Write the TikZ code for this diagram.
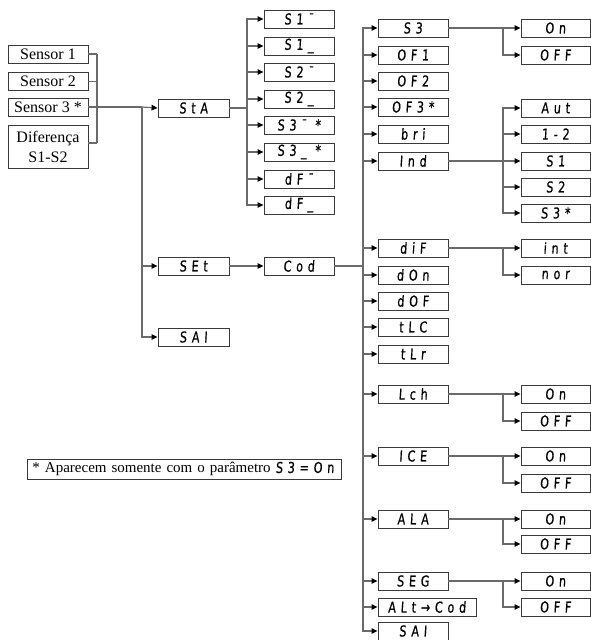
\documentclass[tikz,border=0pt]{standalone}
\usepackage{fontspec}
\setmainfont{Liberation Serif}
\newfontfamily\segfont[LetterSpace=32,FakeStretch=0.74,FakeSlant=0.06,FakeBold=0.6]{DejaVu Sans}
\usetikzlibrary{arrows.meta,calc}
\definecolor{linecol}{HTML}{6A6A6A}
\definecolor{boxcol}{HTML}{3A3A3A}
\tikzset{
  base/.style={draw=boxcol, line width=0.9pt, inner sep=0pt, anchor=center},
  box/.style={base, minimum width=70pt, minimum height=18pt, font={\fontsize{15}{15}\segfont}},
  sbox/.style={base, minimum width=80pt, minimum height=18pt, font={\fontsize{16}{20}\selectfont}},
  link/.style={draw=linecol, line width=1.2pt},
  arr/.style={link, -{Triangle[length=6pt,width=5.5pt,color=black]}},
}
\begin{document}
\begin{tikzpicture}[x=1pt,y=-1pt]
\useasboundingbox (0,0) rectangle (591,640);
% column A
\node[sbox] (s1) at (48,54) {Sensor 1};
\node[sbox] (s2) at (48,81.5) {Sensor 2};
\node[sbox] (s3) at (48,107) {Sensor 3 *};
\node[sbox, minimum height=43pt, align=center] (dif) at (48,146.5) {Diferença\\S1-S2};
% column B
\node[box, minimum width=71pt] (sta) at (193.5,108) {StA};
\node[box, minimum width=71pt] (set) at (193.5,266) {SEt};
\node[box, minimum width=71pt] (saiB) at (193.5,337) {SAI};
% column C
\node[box] (c1) at (299,19) {S1¯};
\node[box] (c2) at (299,46) {S1\_};
\node[box] (c3) at (299,72) {S2¯};
\node[box] (c4) at (299,99) {S2\_};
\node[box] (c5) at (299,125) {S3¯ *};
\node[box] (c6) at (299,152) {S3\_ *};
\node[box] (c7) at (299,179) {dF¯};
\node[box] (c8) at (299,205) {dF\_};
\node[box] (cod) at (299,266) {Cod};
% column D
\node[box] (d1) at (413,28) {S3};
\node[box] (d2) at (413,55) {OF1};
\node[box] (d3) at (413,81) {OF2};
\node[box] (d4) at (413,107) {OF3*};
\node[box] (d5) at (413,134) {bri};
\node[box] (d6) at (413,161) {Ind};
\node[box] (d7) at (413,248) {diF};
\node[box] (d8) at (413,275) {dOn};
\node[box] (d9) at (413,301) {dOF};
\node[box] (d10) at (413,327) {tLC};
\node[box] (d11) at (413,354) {tLr};
\node[box] (d12) at (413,394) {Lch};
\node[box] (d13) at (413,456) {ICE};
\node[box] (d14) at (413,519) {ALA};
\node[box] (d15) at (413,581) {SEG};
\node[box, minimum width=98pt] (d16) at (427,607) {ALt→Cod};
\node[box] (d17) at (413,631) {SAI};
% column E
\node[box, minimum width=69pt] (e1) at (555.5,28) {On};
\node[box, minimum width=69pt] (e2) at (555.5,55) {OFF};
\node[box, minimum width=69pt] (e3) at (555.5,108) {Aut};
\node[box, minimum width=69pt] (e4) at (555.5,134) {1-2};
\node[box, minimum width=69pt] (e5) at (555.5,161) {S1};
\node[box, minimum width=69pt] (e6) at (555.5,187) {S2};
\node[box, minimum width=69pt] (e7) at (555.5,213) {S3*};
\node[box, minimum width=69pt] (e8) at (555.5,248) {int};
\node[box, minimum width=69pt] (e9) at (555.5,275) {nor};
\node[box, minimum width=69pt] (e10) at (555.5,394) {On};
\node[box, minimum width=69pt] (e11) at (555.5,421) {OFF};
\node[box, minimum width=69pt] (e12) at (555.5,456) {On};
\node[box, minimum width=69pt] (e13) at (555.5,483) {OFF};
\node[box, minimum width=69pt] (e14) at (555.5,519) {On};
\node[box, minimum width=69pt] (e15) at (555.5,544) {OFF};
\node[box, minimum width=69pt] (e16) at (555.5,581) {On};
\node[box, minimum width=69pt] (e17) at (555.5,607) {OFF};
% footnote
\node[base, anchor=west, text width=304pt, minimum height=20pt, inner xsep=5pt, align=left, font={\fontsize{15}{16}\selectfont}] (note) at (27,469)
  {* Aparecem somente com o parâmetro {\fontsize{15}{15}\segfont S3=On}};
% connectors: sensors
\coordinate (jA) at (97,107);
\coordinate (jB) at (142,107);
\foreach \n in {s1,s2,s3} \draw[link] (\n.east) -- (\n.east -| jA);
\coordinate (difx) at ($(dif.east)+(0,-3.5)$);
\draw[link] (difx) -- (difx -| jA);
\draw[link] (s1.east -| jA) -- (difx -| jA);
\draw[link] (s3.east) -- (jB);
\draw[arr] (jB) -- (sta.west);
\draw[arr] (jB) |- (set.west);
\draw[arr] (jB) |- (saiB.west);
% StA
\coordinate (jC) at (247,108);
\draw[link] (sta.east) -- (jC);
\foreach \n in {c1,c2,c3,c4,c5,c6,c7,c8} \draw[arr] (jC) |- (\n.west);
% SEt -> Cod
\draw[arr] (set.east) -- (cod.west);
\coordinate (jD) at (363,266);
\draw[link] (cod.east) -- (jD);
\foreach \n in {d1,d2,d3,d4,d5,d6,d7,d8,d9,d10,d11,d12,d13,d14,d15,d16,d17} \draw[arr] (jD) |- (\n.west);
% right branches
\foreach \p/\a/\b in {d1/e1/e2, d7/e8/e9, d12/e10/e11, d13/e12/e13, d14/e14/e15, d15/e16/e17} {
  \coordinate (jr) at (503,0 |- \p.east);
  \draw[link] (\p.east) -- (jr);
  \draw[arr] (jr) |- (\a.west);
  \draw[arr] (jr) |- (\b.west);
}
\coordinate (jE) at (503,161);
\draw[link] (d6.east) -- (jE);
\foreach \n in {e3,e4,e5,e6,e7} \draw[arr] (jE) |- (\n.west);
\end{tikzpicture}
\end{document}
